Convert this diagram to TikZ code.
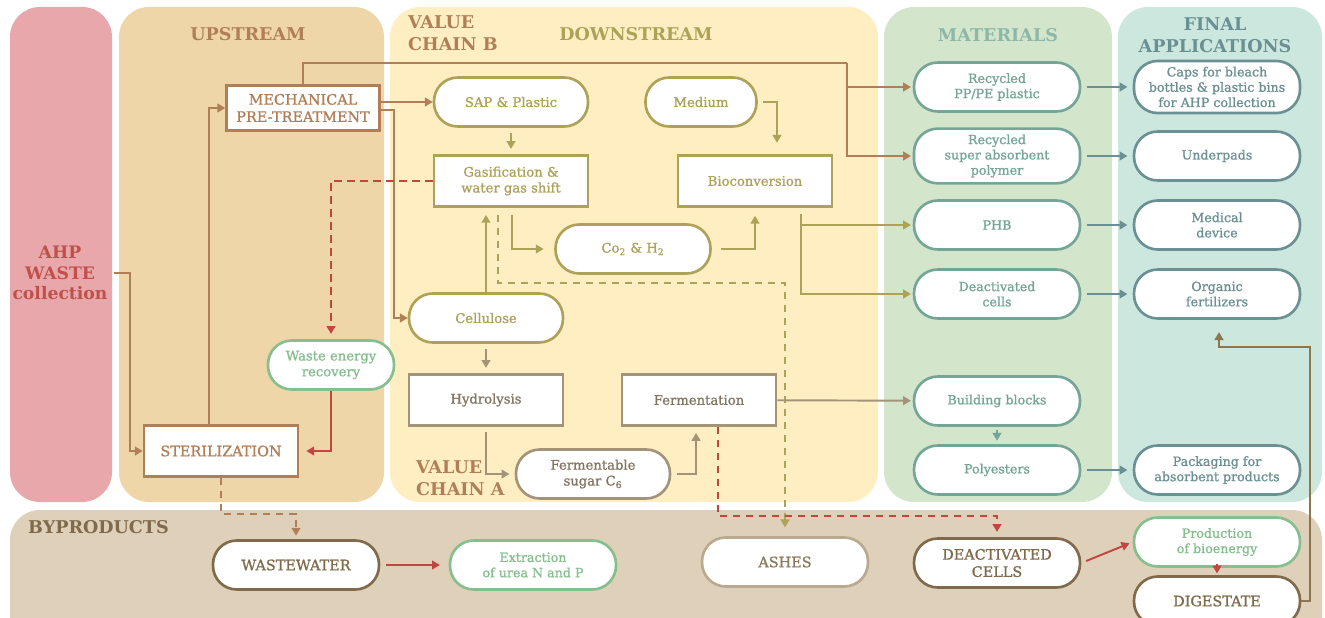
\documentclass[tikz,border=0pt]{standalone}
\usepackage{fontspec}
\setmainfont{DejaVu Serif}
\newfontfamily\semib{DejaVu Serif}[FakeBold=1.1]
\usetikzlibrary{arrows.meta,calc}
\definecolor{pinkbg}{HTML}{E8A8AB}
\definecolor{upbg}{HTML}{EED6A9}
\definecolor{downbg}{HTML}{FEEEC2}
\definecolor{matbg}{HTML}{D3E6CC}
\definecolor{finbg}{HTML}{CCE7DE}
\definecolor{bypbg}{HTML}{DFD0BA}
\definecolor{brownc}{HTML}{B07F58}
\definecolor{olivec}{HTML}{ADA257}
\definecolor{greyb}{HTML}{A39479}
\definecolor{tealc}{HTML}{74A597}
\definecolor{tealdk}{HTML}{6A9093}
\definecolor{redc}{HTML}{C2453F}
\definecolor{greenc}{HTML}{86BE8E}
\definecolor{bypc}{HTML}{7F6B4C}
\definecolor{ashc}{HTML}{B8A98F}
\definecolor{digc}{HTML}{8C7650}
\definecolor{ahpc}{HTML}{C0504A}
\definecolor{mathead}{HTML}{8DB7A6}

\begin{document}
\begin{tikzpicture}[x=0.02cm,y=-0.02cm,
    ln/.style={line width=1.1pt},
    arr/.style={ln,-{Triangle[length=4.5pt,width=5pt]}},
    dsh/.style={dash pattern=on 4.2pt off 3.2pt},
    head/.style={font={\fontsize{10pt}{12.5pt}\bfseries\selectfont},align=center},
    box/.style={draw,fill=white,line width=1.5pt,minimum width=3.08cm,
      minimum height=1.02cm,align=center,font={\semib\fontsize{7.5pt}{9pt}\selectfont}},
    pill/.style={box,rounded corners=13.5pt,minimum height=0.98cm},
    matpill/.style={pill,minimum width=3.32cm,font={\semib\fontsize{7.2pt}{8.7pt}\selectfont}},
    caps/.style={font={\semib\fontsize{8.2pt}{9.8pt}\selectfont}}]
  \useasboundingbox (0,0) rectangle (1325,618);
  % panels
  \fill[pinkbg,rounded corners=17pt] (10,7) rectangle (112,502);
  \fill[upbg,rounded corners=17pt] (119,7) rectangle (384,502);
  \fill[downbg,rounded corners=17pt] (390,7) rectangle (878,502);
  \fill[matbg,rounded corners=17pt] (884,7) rectangle (1112,502);
  \fill[finbg,rounded corners=17pt] (1118,7) rectangle (1322,502);
  \fill[bypbg,rounded corners=17pt] (10,510) rectangle (1322,660);
  % headings
  \node[head,text=brownc] (up) at (248,34) {UPSTREAM};
  \node[head,text=olivec] (down) at (636,34) {DOWNSTREAM};
  \node[head,text=brownc,anchor=west,align=left] (vcb) at (402,33) {VALUE\\CHAIN B};
  \node[head,text=brownc,anchor=west,align=left] (vca) at (410,478) {VALUE\\CHAIN A};
  \node[head,text=mathead] (mat) at (998,35) {MATERIALS};
  \node[head,text=tealdk] (fin) at (1215,35) {FINAL\\APPLICATIONS};
  \node[head,text=bypc,anchor=west] (byp) at (22,527) {BYPRODUCTS};
  \node[head,text=ahpc,font={\fontsize{9.8pt}{11.8pt}\bfseries\selectfont}]
    (ahp) at (60,273) {AHP\\WASTE\\collection};
  % upstream
  \node[box,caps,draw=brownc,text=brownc,minimum width=3.06cm,minimum height=0.9cm]
    (mech) at (303,108) {MECHANICAL\\PRE-TREATMENT};
  \node[box,caps,draw=brownc,text=brownc] (ster) at (221,451) {STERILIZATION};
  \node[pill,draw=greenc,text=greenc,minimum width=2.52cm] (wer) at (331,365)
    {Waste energy\\recovery};
  % downstream
  \node[pill,draw=olivec,text=olivec] (sap) at (511,102) {SAP \& Plastic};
  \node[pill,draw=olivec,text=olivec,minimum width=2.22cm] (medi) at (701,102) {Medium};
  \node[box,draw=olivec,text=olivec] (gas) at (511,181) {Gasification \&\\water gas shift};
  \node[box,draw=olivec,text=olivec] (bio) at (755,181) {Bioconversion};
  \node[pill,draw=olivec,text=olivec,minimum width=3.1cm] (co2) at (633,249)
    {Co\textsubscript{2} \& H\textsubscript{2}};
  \node[pill,draw=olivec,text=olivec] (cell) at (486,318) {Cellulose};
  \node[box,draw=greyb,text=greyb!80!black] (hyd) at (486,400) {Hydrolysis};
  \node[box,draw=greyb,text=greyb!80!black] (ferm) at (699,400) {Fermentation};
  \node[pill,draw=greyb,text=greyb!80!black] (sug) at (593,474)
    {Fermentable\\sugar C\textsubscript{6}};
  % materials
  \node[matpill,draw=tealc,text=tealc] (ppe) at (997,87) {Recycled\\PP/PE plastic};
  \node[matpill,draw=tealc,text=tealc] (sapm) at (997,156)
    {Recycled\\super absorbent\\polymer};
  \node[matpill,draw=tealc,text=tealc] (phb) at (997,225) {PHB};
  \node[matpill,draw=tealc,text=tealc] (deac) at (997,294) {Deactivated\\cells};
  \node[matpill,draw=tealc,text=tealc] (build) at (997,401) {Building blocks};
  \node[matpill,draw=tealc,text=tealc] (poly) at (997,470) {Polyesters};
  % final applications
  \node[matpill,draw=tealdk,text=tealdk] (capsb) at (1217,87)
    {Caps for bleach\\bottles \& plastic bins\\for AHP collection};
  \node[matpill,draw=tealdk,text=tealdk] (under) at (1217,156) {Underpads};
  \node[matpill,draw=tealdk,text=tealdk] (medd) at (1217,225) {Medical\\device};
  \node[matpill,draw=tealdk,text=tealdk] (org) at (1217,294) {Organic\\fertilizers};
  \node[matpill,draw=tealdk,text=tealdk] (pack) at (1217,470)
    {Packaging for\\absorbent products};
  % byproducts
  \node[matpill,caps,draw=bypc,text=bypc] (ww) at (296,565) {WASTEWATER};
  \node[matpill,draw=greenc,text=greenc] (ext) at (533,565) {Extraction\\of urea N and P};
  \node[matpill,caps,draw=ashc,text=bypc!90] (ash) at (785,562) {ASHES};
  \node[matpill,caps,draw=bypc,text=bypc] (dcell) at (997,563) {DEACTIVATED\\CELLS};
  \node[matpill,draw=greenc,text=greenc] (prod) at (1217,542) {Production\\of bioenergy};
  \node[matpill,caps,draw=bypc,text=bypc] (dig) at (1217,601) {DIGESTATE};
  \coordinate (split) at (847,63);
  \coordinate (bsplit) at ($(bio.south)+(46,6)$);
  % upstream links
  \draw[arr,brownc] (ahp.east) -- ++(16,0) |- (ster.west);
  \draw[arr,brownc] ($(ster.north)+(-12,0)$) |- (mech.west);
  \draw[ln,brownc] (mech.north) |- (split);
  \draw[arr,brownc,shorten >=1pt] (split) |- (ppe.west);
  \draw[arr,brownc,shorten >=1pt] (split) |- (sapm.west);
  \draw[arr,brownc] (mech.east |- sap.west) -- (sap.west);
  \draw[arr,brownc] ($(mech.east)+(0,2)$) -- ++(13,0) |- (cell.west);
  \draw[arr,redc,dsh,shorten >=3pt] (gas.west) -| (wer.north);
  \draw[arr,redc,shorten >=4pt] (wer.south) |- (ster.east);
  % downstream links
  \draw[arr,olivec,shorten <=3pt,shorten >=3pt] (sap) -- (gas);
  \draw[arr,olivec,shorten <=3pt,shorten >=6.5pt] (medi.east) -| ($(bio.north)+(22,0)$);
  \draw[arr,olivec,shorten <=4pt,shorten >=6pt] ($(gas.south)+(1,0)$) |- (co2.west);
  \draw[arr,olivec,shorten <=5pt,shorten >=4.5pt] (co2.east) -| (bio.south);
  \draw[arr,olivec,shorten >=4pt] (cell.north) -- (cell.north |- gas.south);
  \draw[arr,olivec,dsh,shorten <=4pt,shorten >=5pt] ($(gas.south)+(-13,0)$)
    |- ($(ash.north)+(0,-253)$) -- (ash.north);
  \draw[arr,olivec,shorten >=1pt] (bsplit) |- (phb.west);
  \draw[arr,olivec,shorten >=1pt] (bsplit) |- (deac.west);
  \draw[arr,greyb,shorten <=3pt,shorten >=3pt] (cell) -- (hyd);
  \draw[arr,greyb,shorten <=3pt,shorten >=3pt] (hyd.south) |- (sug.west);
  \draw[arr,greyb,shorten <=3pt,shorten >=3.5pt] (sug.east) -| ($(ferm.south)+(-3,0)$);
  \draw[arr,greyb,shorten >=1pt] (ferm) -- (build);
  \draw[arr,redc,dsh,shorten >=3pt] ($(ferm.south)+(19,0)$) -- ++(0,89) -| (dcell.north);
  % materials to applications
  \draw[arr,tealc,shorten <=2pt,shorten >=2pt] (build) -- (poly);
  \foreach \a/\b in {ppe/capsb,sapm/under,phb/medd,deac/org,poly/pack}
    \draw[arr,tealdk,shorten <=3pt,shorten >=3pt] (\a) -- (\b);
  % byproduct links
  \draw[arr,brownc,dsh,shorten >=2pt] (ster.south) -- ++(0,36) -| (ww.north);
  \draw[arr,redc,shorten <=3pt,shorten >=5pt] (ww) -- (ext);
  \draw[arr,redc,shorten <=3pt,shorten >=2pt] (dcell.east) -- (prod.west);
  \draw[arr,redc,shorten <=2pt,shorten >=1pt] (prod) -- (dig);
  \draw[arr,digc,shorten >=7pt] (dig.east) -| ($(org.south)+(93,27)$)
    -| ($(org.south)+(2,0)$);
\end{tikzpicture}
\end{document}
